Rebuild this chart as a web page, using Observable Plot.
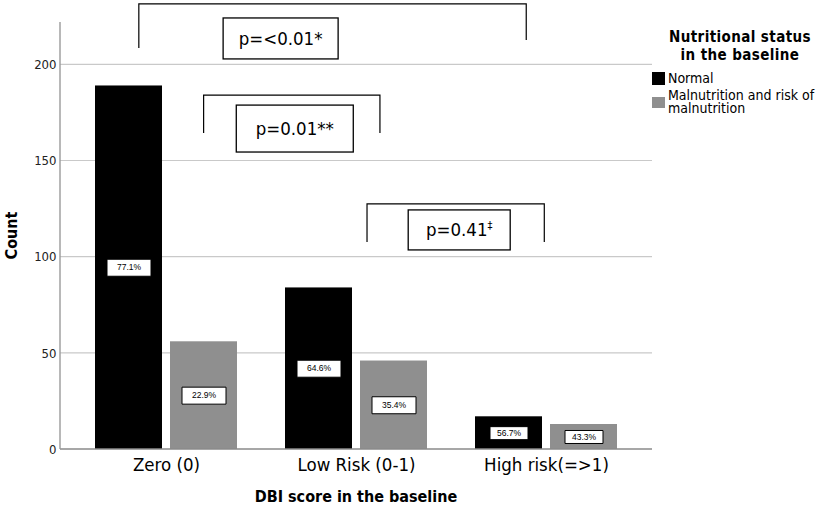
<!DOCTYPE html>
<html>
<head>
<meta charset="utf-8">
<script src="https://cdn.jsdelivr.net/npm/d3@7"></script>
<script src="https://cdn.jsdelivr.net/npm/@observablehq/plot@0.6"></script>
<style>
  body { margin: 0; background: #fff; }
  #wrap { position: relative; width: 829px; height: 509px; background: #fff; }
  #wrap svg { display: block; }
  .lg { position: absolute; font-family: "DejaVu Sans Condensed", "DejaVu Sans", sans-serif; color: #000; }
</style>
</head>
<body>
<div id="wrap"></div>
<script>
// ---------- data ----------
const categories = ["Zero (0)", "Low Risk (0-1)", "High risk(=>1)"];
const series = ["Normal", "Malnutrition and risk of malnutrition"];
const normalCounts = [189, 84, 17];
const malnutritionCounts = [56, 46, 13];
const normalPct = ["77.1%", "64.6%", "56.7%"];
const malnutritionPct = ["22.9%", "35.4%", "43.3%"];
const yTicks = [0, 50, 100, 150, 200];
const pTests = [
  {from: "Zero (0)", to: "High risk(=>1)", text: "p=<0.01*", sup: ""},
  {from: "Zero (0)", to: "Low Risk (0-1)", text: "p=0.01**", sup: ""},
  {from: "Low Risk (0-1)", to: "High risk(=>1)", text: "p=0.41", sup: "\u2021"}
];

// ---------- layout / style (not data) ----------
const FONT = '"DejaVu Sans Condensed", "DejaVu Sans", sans-serif';
const colors = ["#000000", "#8f8f8f"];
const yMax = 222;
// bracket geometry: x as fraction of facet band, y in count units
const bracketLayout = [
  {fromAt: 0.357, toAt: 0.396, top: 231.4, leftEnd: 208.5, rightEnd: 212.6, boxAt: 0.366, boxW: 115, boxTop: 224.1, boxBottom: 202.8},
  {fromAt: 0.698, toAt: 0.626, top: 184.0, leftEnd: 164.3, rightEnd: 164.3, boxAt: 0.517, boxW: 117, boxTop: 178.8, boxBottom: 154.4},
  {fromAt: 0.558, toAt: 0.491, top: 127.4, leftEnd: 107.6, rightEnd: 107.6, boxAt: 0.520, boxW: 102, boxTop: 124.3, boxBottom: 103.5}
];

const rows = categories.flatMap((c, i) => [
  {cat: c, s: series[0], count: normalCounts[i], pct: normalPct[i]},
  {cat: c, s: series[1], count: malnutritionCounts[i], pct: malnutritionPct[i]}
]);

const rectSymbol = (w, h) => ({draw(ctx) { ctx.rect(-w / 2, -h / 2, w, h); }});
const W = 829, H = 509, ML = 60, MR = 177, MT = 22, MB = 60;

const chart = Plot.plot({
  width: W, height: H,
  marginTop: MT, marginBottom: MB, marginLeft: ML, marginRight: MR,
  style: {fontFamily: FONT, background: "white", color: "#000"},
  fx: {domain: categories, paddingInner: 0, paddingOuter: 0.0518, align: 0.5, label: null},
  x: {domain: series, paddingInner: 0.112, paddingOuter: 0.311, align: 0.5, axis: null},
  y: {domain: [0, yMax], label: null},
  color: {domain: series, range: colors},
  marks: [
    Plot.barY(rows, {fx: "cat", x: "s", y: "count", fill: "s"}),
    Plot.dot(rows.filter(d => d.cat !== categories[2]), {fx: "cat", x: "s", y: d => d.count / 2, symbol: rectSymbol(44, 17), fill: "white", stroke: "black", strokeWidth: 1}),
    Plot.dot(rows.filter(d => d.cat === categories[2]), {fx: "cat", x: "s", y: d => d.count / 2, symbol: rectSymbol(38, 13), fill: "white", stroke: "black", strokeWidth: 1}),
    Plot.text(rows, {fx: "cat", x: "s", y: d => d.count / 2, text: "pct", fontSize: 8.5, fontFamily: "Liberation Sans, Arial, sans-serif", fill: "black"}),
    Plot.axisY({ticks: yTicks, tickSize: 0, tickPadding: 15, fontSize: 13, label: null, fill: "#222"}),
    Plot.axisFx({anchor: "bottom", tickSize: 0, tickPadding: 8, fontSize: 18.5, label: null, fill: "#000"})
  ]
});

const wrap = document.getElementById("wrap");
wrap.appendChild(chart);

// ---------- gridlines, axis line and annotations via the plot's own scales ----------
const fx = chart.scale("fx");
const y = chart.scale("y");
const svg = d3.select(chart);
const bw = fx.bandwidth;
const left = ML, right = W - MR;

const under = svg.insert("g", ":first-child");
yTicks.filter(t => t > 0).forEach(t => {
  under.append("line")
    .attr("x1", left).attr("x2", right)
    .attr("y1", y.apply(t)).attr("y2", y.apply(t))
    .attr("stroke", "#c9c9c9").attr("stroke-width", 1.2);
});
svg.select("rect").lower();

svg.append("line")
  .attr("x1", left).attr("x2", right)
  .attr("y1", y.apply(0)).attr("y2", y.apply(0))
  .attr("stroke", "#8a8a8a").attr("stroke-width", 1.4);
svg.append("line")
  .attr("x1", left).attr("x2", left)
  .attr("y1", y.apply(yMax)).attr("y2", y.apply(0))
  .attr("stroke", "#9a9a9a").attr("stroke-width", 1.4);

// axis titles
svg.append("text")
  .attr("transform", `translate(17,${(y.apply(0) + y.apply(yMax)) / 2}) rotate(-90)`)
  .attr("text-anchor", "middle")
  .attr("font-family", FONT).attr("font-weight", "bold").attr("font-size", 16)
  .text("Count");
svg.append("text")
  .attr("x", (left + right) / 2).attr("y", 502)
  .attr("text-anchor", "middle")
  .attr("font-family", FONT).attr("font-weight", "bold").attr("font-size", 16)
  .text("DBI score in the baseline");

// significance brackets
pTests.forEach((t, i) => {
  const L = bracketLayout[i];
  const xl = fx.apply(t.from) + L.fromAt * bw;
  const xr = fx.apply(t.to) + L.toAt * bw;
  svg.append("path")
    .attr("d", `M${xl},${y.apply(L.leftEnd)}V${y.apply(L.top)}H${xr}V${y.apply(L.rightEnd)}`)
    .attr("fill", "none").attr("stroke", "#000").attr("stroke-width", 1.2);
  const cx = xl + L.boxAt * (xr - xl);
  const yt = y.apply(L.boxTop), yb = y.apply(L.boxBottom);
  svg.append("rect")
    .attr("x", cx - L.boxW / 2).attr("y", yt)
    .attr("width", L.boxW).attr("height", yb - yt)
    .attr("fill", "white").attr("stroke", "#000").attr("stroke-width", 1.3);
  const tx = svg.append("text")
    .attr("x", cx).attr("y", (yt + yb) / 2 + 6.5)
    .attr("text-anchor", "middle")
    .attr("font-family", FONT).attr("font-size", 18.5)
    .text(t.text);
  if (t.sup) tx.append("tspan").attr("dy", -7).attr("font-size", 11).text(t.sup);
});

// ---------- legend (HTML, beside the plot) ----------
const title = document.createElement("div");
title.className = "lg";
Object.assign(title.style, {left: "650px", top: "28px", width: "180px", textAlign: "center", fontWeight: "bold", fontSize: "15px", lineHeight: "18px", letterSpacing: "0.4px"});
title.innerHTML = "Nutritional status<br>in the baseline";
wrap.appendChild(title);

const itemTops = [72, 89];
series.forEach((s, i) => {
  const item = document.createElement("div");
  item.className = "lg";
  Object.assign(item.style, {left: "652px", top: itemTops[i] + "px", display: "flex", alignItems: "center", fontSize: "14px", lineHeight: "13px"});
  const sw = document.createElement("span");
  Object.assign(sw.style, {display: "inline-block", width: "13px", height: i === 0 ? "13px" : "11px", background: colors[i], marginRight: "3px", flex: "none"});
  const lab = document.createElement("span");
  lab.style.width = "160px";
  lab.textContent = s;
  item.appendChild(sw);
  item.appendChild(lab);
  wrap.appendChild(item);
});
</script>
</body>
</html>
